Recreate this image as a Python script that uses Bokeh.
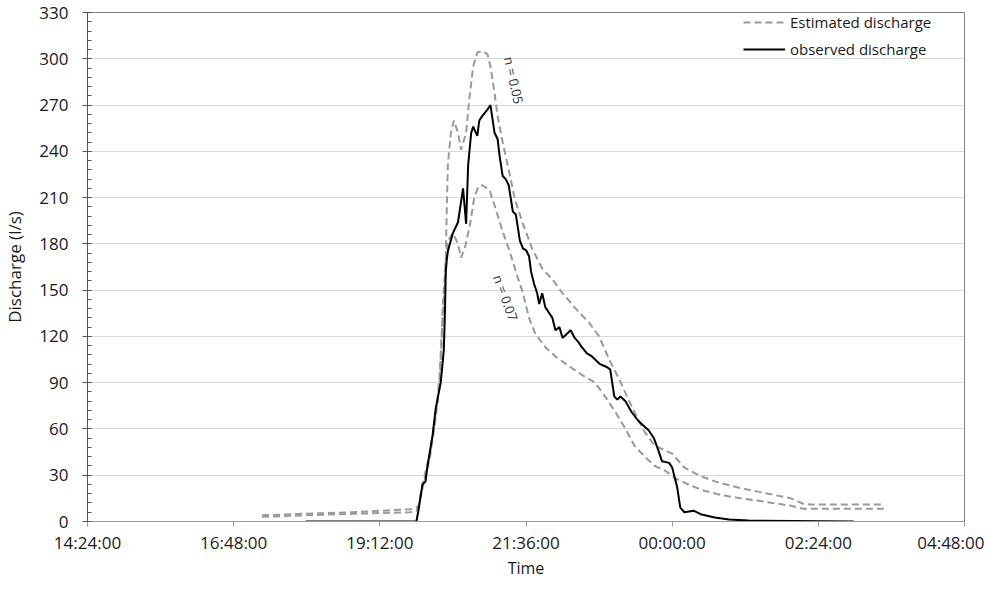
import math
from bokeh.plotting import figure
from bokeh.models import Range1d, FixedTicker, SingleIntervalTicker, Legend, LegendItem, Label
from bokeh.embed import file_html
from bokeh.resources import INLINE

# ---- data ----
x_tick_minutes = [864, 1008, 1152, 1296, 1440, 1584, 1728]
x_tick_labels = ["14:24:00", "16:48:00", "19:12:00", "21:36:00", "00:00:00", "02:24:00", "04:48:00"]

obs_time = ["17:59", "19:48", "19:50", "19:54", "19:57", "19:59", "20:04", "20:07", "20:12", "20:15",
            "20:16", "20:17", "20:18", "20:19", "20:21", "20:24", "20:29", "20:34", "20:37", "20:39",
            "20:42", "20:44", "20:48", "20:50", "20:53", "20:58", "21:01", "21:05", "21:08", "21:10",
            "21:13", "21:16", "21:19", "21:23", "21:26", "21:30", "21:33", "21:36", "21:39", "21:41",
            "21:44", "21:47", "21:49", "21:52", "21:55", "21:59", "22:02", "22:05", "22:09", "22:12",
            "22:20", "22:24", "22:28", "22:31", "22:36", "22:41", "22:49", "22:56", "22:59", "23:03",
            "23:06", "23:09", "23:14", "23:20", "23:27", "23:37", "23:42", "23:47", "23:50", "23:57",
            "00:00", "00:05", "00:08", "00:12", "00:21", "00:29", "00:42", "00:56", "01:15", "02:59"]
obs_q = [0, 0, 7, 24, 26, 36, 56, 73, 90, 111,
         132, 162, 170, 175, 180, 187, 194, 216, 193, 231,
         252, 256, 250, 260, 263, 267, 270, 252, 248, 237,
         224, 222, 218, 201, 199, 182, 177, 176, 172, 162,
         154, 148, 141, 148, 139, 135, 132, 124, 126, 119,
         124, 119, 116, 113, 109, 107, 102, 100, 98.5, 81,
         79, 81, 78, 71, 65, 59, 54, 45, 39, 38,
         35, 22, 9, 6, 7, 4.5, 2.6, 1.3, 0.6, 0]

est05_time = ["17:16", "17:57", "18:46", "19:42", "19:48", "19:50", "19:54", "20:01", "20:06", "20:09",
              "20:11", "20:13", "20:16", "20:17", "20:18", "20:19", "20:22", "20:25", "20:29", "20:32",
              "20:37", "20:40", "20:44", "20:48", "20:53", "20:58", "21:01", "21:05", "21:08", "21:13",
              "21:18", "21:25", "21:33", "21:42", "21:52", "22:02", "22:12", "22:25", "22:38", "22:48",
              "22:58", "23:08", "23:17", "23:25", "23:33", "23:43", "23:50", "00:00", "00:12", "00:26",
              "00:42", "01:05", "01:31", "01:57", "02:09", "02:17", "03:29"]
est05_q = [4, 5, 6, 8, 9, 10, 24, 43, 65, 81,
           96, 122, 154, 171, 205, 231, 252, 260, 252, 241,
           252, 273, 295, 304, 305, 303, 295, 278, 263, 246,
           231, 209, 193, 177, 164, 157, 148, 138, 129, 120,
           105, 92, 79, 68, 58, 49, 47, 44, 35, 30,
           26, 22, 18.5, 15, 11.5, 11, 11]

est07_time = ["17:16", "17:57", "18:46", "19:42", "19:48", "19:50", "19:54", "20:01", "20:06", "20:09",
              "20:11", "20:13", "20:14", "20:17", "20:19", "20:24", "20:29", "20:32", "20:36", "20:41",
              "20:45", "20:49", "20:53", "21:00", "21:06", "21:13", "21:20", "21:26", "21:33", "21:39",
              "21:45", "21:55", "22:05", "22:20", "22:31", "22:44", "22:54", "23:04", "23:14", "23:23",
              "23:33", "23:43", "23:53", "00:03", "00:16", "00:29", "00:49", "01:08", "01:31", "01:57",
              "02:09", "03:29"]
est07_q = [3, 4, 5, 6, 7, 9, 22, 40, 62, 78,
           92, 118, 140, 170, 182, 187, 180, 171, 178, 193,
           210, 217, 218, 215, 203, 188, 175, 162, 148, 132,
           122, 113, 107, 100, 95, 90, 81, 71, 60, 49,
           42, 36, 33, 28, 24, 20.5, 17, 15, 12.8, 10.2,
           8.3, 8.3]


def to_min(s):
    h, m = s.split(":")
    h = int(h)
    if h < 12:
        h += 24
    return h * 60 + int(m)


FONT = "Open Sans"

p = figure(width=984, height=581, x_range=Range1d(864, 1728), y_range=Range1d(0, 330),
           output_backend="svg", toolbar_location=None,
           min_border_left=83, min_border_right=20, min_border_top=12, min_border_bottom=57)

p.outline_line_color = "#808080"
p.xgrid.visible = False
p.ygrid.grid_line_color = "#d9d9d9"
p.ygrid.grid_line_width = 1

# x axis
p.xaxis.ticker = FixedTicker(ticks=x_tick_minutes)
p.xaxis.major_label_overrides = {t: l for t, l in zip(x_tick_minutes, x_tick_labels)}
p.xaxis.axis_line_color = "#999999"
p.xaxis.major_tick_line_color = "#999999"
p.xaxis.major_tick_in = 0
p.xaxis.major_tick_out = 5
p.xaxis.minor_tick_line_color = None
p.xaxis.major_label_standoff = 4
p.xaxis.major_label_text_font = FONT
p.xaxis.major_label_text_font_size = "17px"
p.xaxis.major_label_text_color = "#1a1a1a"
p.xaxis.axis_label = "Time"
p.xaxis.axis_label_standoff = 0
p.xaxis.axis_label_text_font = FONT
p.xaxis.axis_label_text_font_size = "16px"
p.xaxis.axis_label_text_font_style = "normal"
p.xaxis.axis_label_text_color = "#1a1a1a"

# y axis
p.yaxis.ticker = SingleIntervalTicker(interval=30, num_minor_ticks=5)
p.yaxis.axis_line_color = "#555555"
p.yaxis.major_tick_line_color = "#555555"
p.yaxis.minor_tick_line_color = "#555555"
p.yaxis.major_tick_in = 4
p.yaxis.major_tick_out = 5
p.yaxis.minor_tick_in = 4
p.yaxis.minor_tick_out = 0
p.yaxis.major_label_standoff = 14
p.yaxis.major_label_text_font = FONT
p.yaxis.major_label_text_font_size = "17px"
p.yaxis.major_label_text_color = "#1a1a1a"
p.yaxis.axis_label = "Discharge (l/s)"
p.yaxis.axis_label_standoff = 10
p.yaxis.axis_label_text_font = FONT
p.yaxis.axis_label_text_font_size = "17px"
p.yaxis.axis_label_text_font_style = "normal"
p.yaxis.axis_label_text_color = "#1a1a1a"

DASH_COLOR = "#9a9a9a"
r05 = p.line([to_min(t) for t in est05_time], est05_q, line_color=DASH_COLOR, line_width=2,
             line_dash="7 4")
r07 = p.line([to_min(t) for t in est07_time], est07_q, line_color=DASH_COLOR, line_width=2,
             line_dash="7 4")
robs = p.line([to_min(t) for t in obs_time], obs_q, line_color="black", line_width=2)

legend = Legend(items=[LegendItem(label="Estimated discharge", renderers=[r05]),
                       LegendItem(label="observed discharge", renderers=[robs])],
                location=(656, 462), margin=0, padding=0, spacing=7,
                glyph_width=42, glyph_height=18, label_height=18, label_standoff=5,
                label_text_font=FONT, label_text_font_size="15px", label_text_color="#1a1a1a",
                background_fill_alpha=0, border_line_alpha=0)
p.add_layout(legend)

p.add_layout(Label(x=to_min("21:24"), y=286, text="n = 0.05", angle=-1.35,
                   text_align="center", text_baseline="middle",
                   text_font=FONT, text_font_size="13px", text_color="#333333"))
p.add_layout(Label(x=to_min("21:16"), y=145, text="n = 0.07", angle=-1.22,
                   text_align="center", text_baseline="middle",
                   text_font=FONT, text_font_size="13px", text_color="#333333"))

open("out.html", "w").write(file_html(p, INLINE))
